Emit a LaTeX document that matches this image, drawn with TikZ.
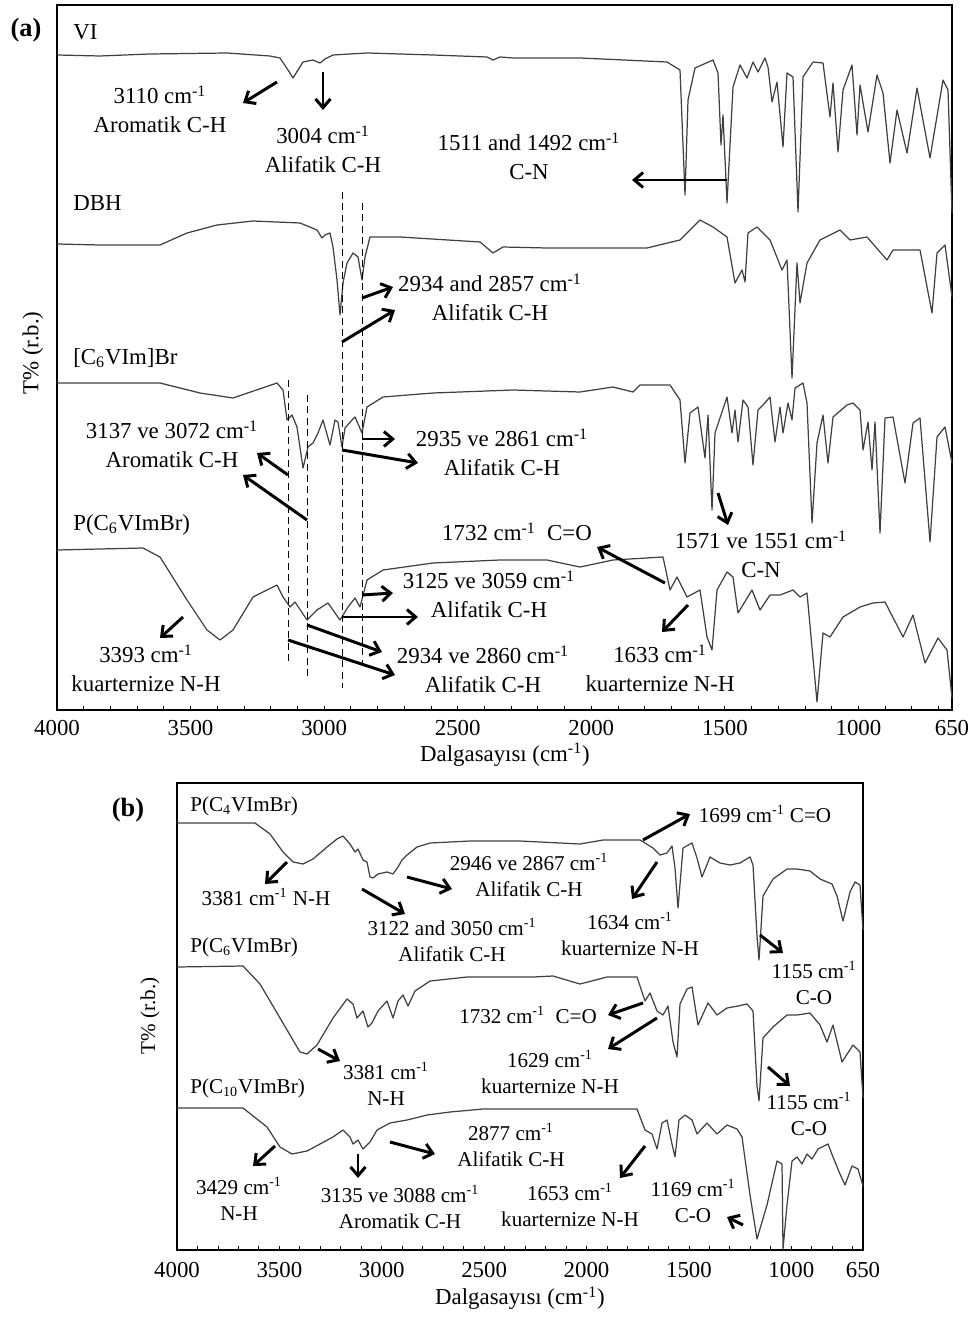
\documentclass[tikz,border=0pt]{standalone}
\usepackage{fontspec}
\setmainfont{Liberation Serif}
\usetikzlibrary{arrows.meta}
\tikzset{spec/.style={line width=0.7pt,black!75,line join=round}}
\tikzset{pkarrow/.style={line width=1.7pt,
    -{Straight Barb[length=5pt,width=8.5pt]}}}
\tikzset{guide/.style={line width=0.5pt,dash pattern=on 4pt off 2.5pt}}
\tikzset{lblA/.style={font=\fontsize{13}{16}\selectfont,
    align=center,inner sep=0pt}}
\tikzset{lblB/.style={font=\fontsize{12}{15}\selectfont,
    align=center,inner sep=0pt}}

\begin{document}
\begin{tikzpicture}[x=0.02cm,y=-0.02cm]

\useasboundingbox (0,0) rectangle (974,1317);

%   (a) axis frame
\pgfmathsetmacro{\aL}{57}
\pgfmathsetmacro{\aR}{952}
\pgfmathsetmacro{\aT}{5}
\pgfmathsetmacro{\aB}{710}
\pgfmathsetmacro{\aS}{(\aR-\aL)/3350}

%   (b) axis frame
\pgfmathsetmacro{\bL}{177}
\pgfmathsetmacro{\bR}{863}
\pgfmathsetmacro{\bT}{783}
\pgfmathsetmacro{\bB}{1250}
\pgfmathsetmacro{\bS}{(\bR-\bL)/3350}

%   ============ (a) ============
\draw[line width=0.6pt] (\aL,\aT) rectangle (\aR,\aB);
\foreach \w in {700,800,...,3900}{
    \pgfmathsetmacro{\tx}{\aL+(4000-\w)*\aS}
    \draw[line width=0.5pt] (\tx,\aB) -- (\tx,\aB-4);
}
\foreach \w in {4000,3500,3000,2500,2000,1500,1000,650}
    \node[lblA] (ta\w) at ({\aL+(4000-\w)*\aS},728) {\w};
\node[lblA] (xla) at (505,755) {Dalgasayısı (cm\textsuperscript{-1})};
\node[lblA,rotate=90] (yla) at (33,353) {T\% (r.b.)};
\node[font=\bfseries\fontsize{15}{17}\selectfont,inner sep=0pt]
    (pa) at (26,30) {(a)};

%   VI
\draw[spec] plot coordinates {(57,55) (100,56) (150,54) (227,53)
    (270,56) (280,58) (288,70) (293,78) (298,70) (303,62) (313,60)
    (320,63) (325,59) (333,55) (367,53) (433,55) (487,57) (493,60)
    (500,57) (513,58) (580,58) (667,62) (680,70) (685,195) (688,100)
    (695,68) (713,60) (718,73) (721,145) (723,115) (727,203) (733,87)
    (740,65) (747,78) (753,62) (758,72) (765,58) (768,67) (772,102)
    (777,82) (783,147) (787,73) (793,77) (798,212) (803,77) (813,62)
    (823,63) (830,117) (833,83) (838,152) (843,90) (852,65) (857,135)
    (860,85) (868,132) (877,75) (883,93) (890,163) (897,110) (907,153)
    (917,88) (930,158) (943,80) (948,90) (952,213)};

%   DBH
\draw[spec] plot coordinates {(57,244) (100,245) (160,245) (187,233)
    (217,225) (253,221) (300,223) (317,230) (322,238) (325,235)
    (330,233) (333,247) (337,280) (340,315) (343,283) (347,263)
    (353,253) (358,257) (362,280) (365,257) (370,237) (400,237)
    (480,242) (493,253) (503,247) (547,248) (647,248) (680,240)
    (700,220) (713,227) (727,237) (735,283) (742,270) (745,282)
    (748,233) (757,227) (770,240) (782,270) (787,260) (792,378)
    (797,263) (800,303) (807,263) (820,240) (840,230) (850,240)
    (867,237) (887,260) (893,250) (920,250) (932,313) (937,253)
    (945,245) (952,297)};

%   [C6VIm]Br
\draw[spec] plot coordinates {(57,383) (160,383) (200,393) (233,398)
    (277,383) (283,390) (287,420) (292,415) (297,427) (303,468)
    (308,447) (313,443) (318,433) (323,420) (330,445) (335,420)
    (338,422) (342,447) (345,428) (352,420) (355,417) (362,433)
    (367,407) (383,397) (433,393) (513,390) (580,392) (613,387)
    (633,392) (640,385) (670,385) (680,400) (685,463) (690,413)
    (698,407) (705,458) (708,415) (712,510) (715,433) (727,397)
    (732,433) (735,410) (738,442) (743,400) (748,407) (753,465)
    (758,410) (763,405) (770,397) (775,442) (780,407) (783,433)
    (788,403) (792,420) (795,388) (803,383) (807,403) (812,523)
    (817,443) (823,415) (828,463) (833,417) (847,405) (853,403)
    (860,410) (863,450) (868,422) (872,470) (875,422) (880,533)
    (885,418) (893,417) (905,483) (913,423) (920,418) (930,542)
    (937,437) (945,427) (952,463)};

%   P(C6VImBr)
\draw[spec] plot coordinates {(57,550) (143,548) (160,557) (187,600)
    (207,630) (220,640) (233,630) (253,597) (277,585) (283,597)
    (290,607) (295,602) (307,620) (317,610) (328,603) (340,620)
    (348,607) (355,598) (360,607) (367,580) (383,570) (433,563)
    (500,560) (547,560) (580,567) (613,560) (663,557) (670,590)
    (677,577) (687,597) (700,590) (707,637) (712,650) (717,590)
    (727,572) (733,577) (738,613) (752,590) (760,610) (770,595)
    (780,595) (793,590) (800,597) (807,593) (817,702) (823,633)
    (830,637) (843,617) (860,607) (873,603) (885,602) (903,637)
    (913,615) (925,663) (938,638) (947,650) (952,698)};

%   guide lines
\draw[guide] (342,192) -- (342,688);
\draw[guide] (362,203) -- (362,665);
\draw[guide] (288,380) -- (288,663);
\draw[guide] (307,395) -- (307,678);

%   labels
\node[lblA,anchor=west] (lvi) at (73,32) {VI};
\node[lblA] (l3110) at (160,109) {3110 cm\textsuperscript{-1}\\Aromatik C-H};
\node[lblA] (l3004) at (323,149) {3004 cm\textsuperscript{-1}\\Alifatik C-H};
\node[lblA] (l1511) at (529,156) {1511 and 1492 cm\textsuperscript{-1}\\C-N};
\node[lblA,anchor=west] (ldbh) at (73,203) {DBH};
\node[lblA] (l2934a) at (490,297) {2934 and 2857 cm\textsuperscript{-1}\\Alifatik C-H};
\node[lblA,anchor=west] (lc6vim) at (73,358) {[C\textsubscript{6}VIm]Br};
\node[lblA] (l3137) at (172,444) {3137 ve 3072 cm\textsuperscript{-1}\\Aromatik C-H};
\node[lblA] (l2935) at (502,452) {2935 ve 2861 cm\textsuperscript{-1}\\Alifatik C-H};
\node[lblA,anchor=west] (lpc6a) at (73,525) {P(C\textsubscript{6}VImBr)};
\node[lblA] (l1732a) at (517,532) {1732 cm\textsuperscript{-1}\ \ C=O};
\node[lblA] (l1571) at (761,554) {1571 ve 1551 cm\textsuperscript{-1}\\C-N};
\node[lblA] (l3125) at (489,594) {3125 ve 3059 cm\textsuperscript{-1}\\Alifatik C-H};
\node[lblA] (l3393) at (146,668) {3393 cm\textsuperscript{-1}\\kuarternize N-H};
\node[lblA] (l2934b) at (483,669) {2934 ve 2860 cm\textsuperscript{-1}\\Alifatik C-H};
\node[lblA] (l1633) at (660,668) {1633 cm\textsuperscript{-1}\\kuarternize N-H};

%   arrows
\foreach \xs/\ys/\xe/\ye in {277/82/243/103, 323/72/323/110,
    727/180/632/180, 362/298/393/287, 342/342/395/310,
    362/439/395/439, 342/450/418/463, 288/475/257/453,
    307/520/243/475, 362/595/393/593, 342/617/418/617,
    307/625/382/652, 288/640/395/675, 183/617/160/638,
    665/583/597/547, 688/605/662/632, 718/493/728/525}
    \draw[pkarrow] (\xs,\ys) -- (\xe,\ye);

%   ============ (b) ============
\draw[line width=0.6pt] (\bL,\bT) rectangle (\bR,\bB);
\foreach \w in {700,800,...,3900}{
    \pgfmathsetmacro{\tx}{\bL+(4000-\w)*\bS}
    \draw[line width=0.5pt] (\tx,\bB) -- (\tx,\bB-4);
}
\foreach \w in {4000,3500,3000,2500,2000,1500,1000,650}
    \node[lblA] (tb\w) at ({\bL+(4000-\w)*\bS},1270) {\w};
\node[lblA] (xlb) at (520,1298) {Dalgasayısı (cm\textsuperscript{-1})};
\node[lblB,rotate=90] (ylb) at (150,1016) {T\% (r.b.)};
\node[font=\bfseries\fontsize{15}{17}\selectfont,inner sep=0pt]
    (pb) at (128,810) {(b)};

%   P(C4VImBr)
\draw[spec] plot coordinates {(177,823) (255,823) (270,834) (283,852)
    (293,862) (303,864) (313,859) (327,847) (337,839) (343,836)
    (350,844) (355,852) (358,849) (363,860) (367,862) (370,877)
    (373,878) (378,874) (387,872) (393,874) (398,867) (402,860)
    (407,855) (417,847) (430,843) (470,841) (520,841) (580,844)
    (603,840) (640,840) (653,848) (660,855) (667,853) (672,846)
    (675,868) (678,908) (683,848) (692,843) (697,858) (702,877)
    (710,857) (720,863) (730,865) (740,863) (750,857) (753,865)
    (757,936) (759,960) (763,896) (773,879) (787,869) (797,869)
    (810,871) (820,879) (832,884) (837,896) (843,921) (850,892)
    (855,882) (860,885) (863,930)};

%   P(C6VImBr)
\draw[spec] plot coordinates {(177,967) (243,966) (260,984) (280,1018)
    (300,1052) (307,1054) (317,1045) (333,1018) (347,999) (353,1004)
    (357,1018) (363,1011) (368,1027) (372,1023) (378,1011) (387,1001)
    (393,1018) (398,1001) (403,995) (408,1006) (415,991) (430,981)
    (467,977) (533,977) (553,976) (580,984) (607,977) (637,977)
    (645,1001) (650,993) (657,1011) (663,1015) (668,1006) (673,1042)
    (677,1057) (680,1004) (687,989) (692,987) (698,1025) (708,1003)
    (717,1015) (727,1008) (738,1006) (747,1004) (753,1011) (757,1086)
    (759,1101) (763,1038) (773,1027) (787,1015) (797,1015) (810,1013)
    (820,1025) (827,1042) (833,1025) (842,1062) (853,1045) (860,1052)
    (863,1098)};

%   P(C10VImBr)
\draw[spec] plot coordinates {(177,1108) (243,1108) (267,1127)
    (280,1147) (292,1154) (307,1151) (333,1137) (343,1130) (350,1137)
    (353,1144) (358,1140) (363,1149) (370,1142) (377,1130) (390,1123)
    (407,1120) (427,1115) (450,1112) (483,1109) (540,1109) (637,1109)
    (645,1130) (652,1134) (657,1149) (662,1123) (667,1120) (672,1144)
    (675,1157) (679,1120) (685,1115) (692,1120) (697,1134) (707,1123)
    (717,1134) (727,1125) (737,1129) (742,1137) (750,1195) (757,1239)
    (767,1205) (777,1161) (782,1164) (783,1249) (787,1205) (792,1161)
    (797,1157) (802,1164) (807,1154) (812,1159) (818,1149) (828,1144)
    (833,1157) (840,1174) (845,1185) (852,1166) (858,1169) (863,1186)};

%   labels
\node[lblB,anchor=west] (lpc4) at (190,806) {P(C\textsubscript{4}VImBr)};
\node[lblB] (l3381a) at (266,897) {3381 cm\textsuperscript{-1} N-H};
\node[lblB] (l2946) at (529,875) {2946 ve 2867 cm\textsuperscript{-1}\\Alifatik C-H};
\node[lblB] (l3122) at (452,940) {3122 and 3050\ cm\textsuperscript{-1}\\Alifatik C-H};
\node[lblB] (l1699) at (765,814) {1699 cm\textsuperscript{-1} C=O};
\node[lblB] (l1634) at (630,934) {1634 cm\textsuperscript{-1}\\kuarternize N-H};
\node[lblB] (l1155a) at (814,983) {1155 cm\textsuperscript{-1}\\C-O};
\node[lblB,anchor=west] (lpc6b) at (190,947) {P(C\textsubscript{6}VImBr)};
\node[lblB] (l1732b) at (528,1015) {1732 cm\textsuperscript{-1}\ \ C=O};
\node[lblB] (l3381b) at (386,1084) {3381 cm\textsuperscript{-1}\\N-H};
\node[lblB] (l1629) at (550,1072) {1629 cm\textsuperscript{-1}\\kuarternize N-H};
\node[lblB] (l1155b) at (809,1114) {1155 cm\textsuperscript{-1}\\C-O};
\node[lblB,anchor=west] (lpc10) at (190,1088) {P(C\textsubscript{10}VImBr)};
\node[lblB] (l2877) at (511,1145) {2877 cm\textsuperscript{-1}\\Alifatik C-H};
\node[lblB] (l3429) at (239,1199) {3429 cm\textsuperscript{-1}\\N-H};
\node[lblB] (l3135) at (400,1207) {3135 ve 3088 cm\textsuperscript{-1}\\Aromatik C-H};
\node[lblB] (l1653) at (570,1205) {1653 cm\textsuperscript{-1}\\kuarternize N-H};
\node[lblB] (l1169) at (693,1201) {1169 cm\textsuperscript{-1}\\C-O};

%   arrows
\foreach \xs/\ys/\xe/\ye in {287/862/265/884, 362/889/405/914,
    407/877/452/889, 643/840/690/814, 657/862/632/899,
    760/935/783/953, 318/1049/340/1061, 643/1003/608/1015,
    657/1018/608/1049, 768/1067/790/1086, 275/1146/253/1166,
    358/1154/358/1178, 390/1142/435/1154, 645/1146/620/1178,
    743/1225/727/1217}
    \draw[pkarrow] (\xs,\ys) -- (\xe,\ye);

\end{tikzpicture}
\end{document}
